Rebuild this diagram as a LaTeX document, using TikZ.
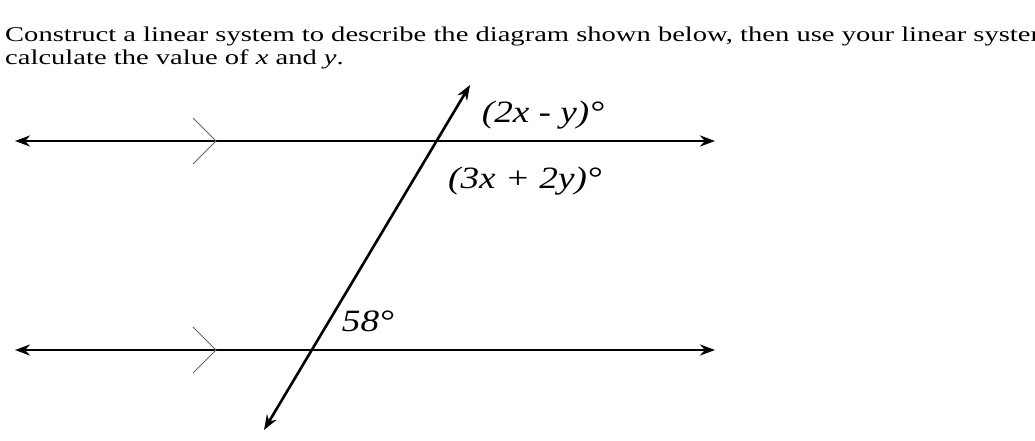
\documentclass[tikz,border=0pt]{standalone}
\usepackage{fontspec}
\setmainfont{Liberation Serif}
\newfontfamily\promptfont{Liberation Serif}[FakeStretch=1.36]
\newfontfamily\anglefont{Liberation Serif}[FakeStretch=1.2]
\usetikzlibrary{arrows.meta}

\begin{document}
\begin{tikzpicture}[
  x=1pt, y=-1pt,
  line/.style = {line width=2.6pt,
    {Stealth[length=15pt,width=11pt]}-{Stealth[length=15pt,width=11pt]}},
  chevron/.style = {line width=1pt, black!60},
  prompt/.style = {anchor=base west, inner sep=0pt,
    font=\promptfont\fontsize{21}{25}\selectfont},
  angle/.style = {inner sep=0pt,
    font=\anglefont\itshape\fontsize{31}{36}\selectfont}
  ]
  \useasboundingbox (0,0) rectangle (1035,441);
  \clip (0,0) rectangle (1035,441);

  % question
  \node[prompt] (line1) at (5,42)
    {Construct a linear system to describe the diagram shown below, then use your linear system};
  \node[prompt] (line2) at (5,65)
    {calculate the value of \textit{x} and \textit{y}.};

  % parallel lines
  \coordinate (upL) at (15,141);
  \coordinate (upR) at (715,141);
  \coordinate (lowL) at (15,350);
  \coordinate (lowR) at (715,350);
  \draw[line] (upL) -- (upR);
  \draw[line] (lowL) -- (lowR);

  % parallel marks
  \coordinate (upTip) at (216,141);
  \coordinate (lowTip) at (216,350);
  \draw[chevron] ([shift={(-23,-23)}]upTip) -- (upTip) -- ([shift={(-23,23)}]upTip);
  \draw[chevron] ([shift={(-23,-23)}]lowTip) -- (lowTip) -- ([shift={(-23,23)}]lowTip);

  % transversal
  \coordinate (trB) at (264,430);
  \coordinate (trT) at (470,85);
  \draw[line] (trB) -- (trT);

  % angles
  \node[angle] (topA) at (543,115) {(2\textit{x} - \textit{y})°};
  \node[angle] (botA) at (525,181) {(3\textit{x} + 2\textit{y})°};
  \node[angle] (given) at (368,321) {58°};
\end{tikzpicture}
\end{document}
